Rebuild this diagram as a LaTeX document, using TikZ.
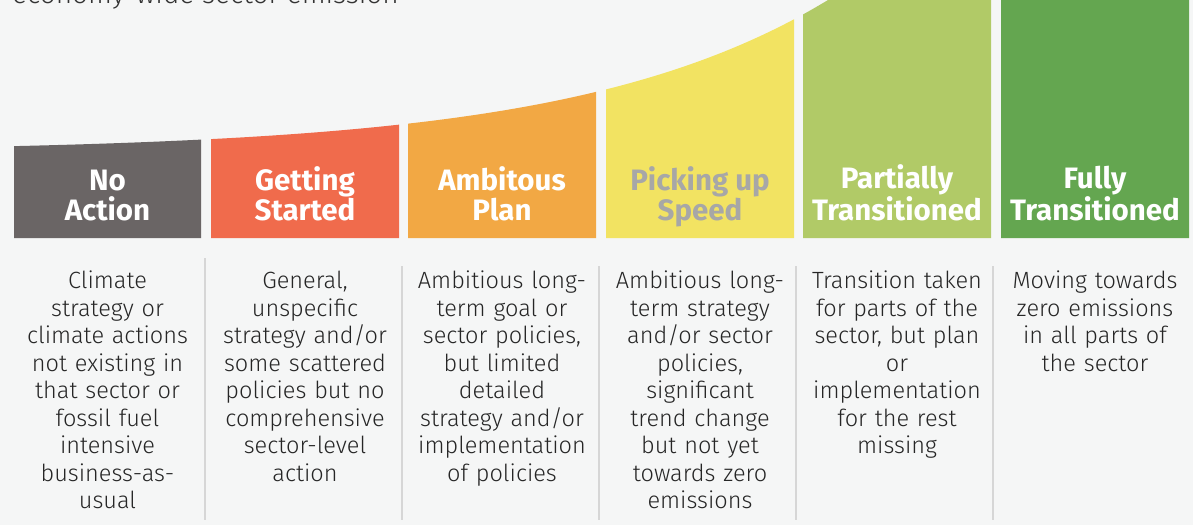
\documentclass[tikz,border=0pt]{standalone}
\usepackage{fontspec}
\setmainfont{Fira Sans}[UprightFont=* Light, BoldFont=* Bold]
\usetikzlibrary{positioning}
\definecolor{bgcol}{HTML}{F5F6F6}
\definecolor{noaction}{HTML}{6A6565}
\definecolor{started}{HTML}{F06B4C}
\definecolor{ambitious}{HTML}{F2A844}
\definecolor{pickup}{HTML}{F2E362}
\definecolor{partial}{HTML}{B1CA67}
\definecolor{fully}{HTML}{64A650}
\definecolor{rulegray}{HTML}{D6D6D6}
\definecolor{pickuptext}{HTML}{A7A7A7}
\tikzset{
  % heading inside each coloured bar
  head/.style={anchor=base, align=center, inner sep=0pt,
    font=\bfseries\fontsize{29.5}{30}\selectfont, text=white},
  % description text below the bars
  desc/.style={anchor=north, align=center, inner sep=0pt, text width=190pt,
    font=\fontsize{23.5}{27.5}\selectfont, text=black!85},
  % thin rules between the descriptions
  sep/.style={rulegray, line width=1.5pt},
}

\begin{document}
\begin{tikzpicture}[x=1pt, y=-1pt]
  \fill[bgcol] (0,0) rectangle (1193,525);
  \useasboundingbox (0,0) rectangle (1193,525);
  \clip (0,0) rectangle (1193,525);

  \node[anchor=base west, inner sep=0pt, font=\fontsize{28}{30}\selectfont,
    text=black!80] (title) at (12,3.5) {economy-wide sector emission};

  % coloured bars under the rising curve
  \foreach \xa/\xb/\col in {14/201/noaction, 211/399/started, 408/596/ambitious,
      606/794/pickup, 803/991/partial, 1001/1189/fully}
    \fill[\col] (\xa,238) -- plot[domain=\xa:\xb, samples=40]
      (\x,{152-5.55*exp(0.004*\x)}) -- (\xb,238) -- cycle;

  \node[head] (noact) at (107.5,220) {No\\Action};
  \node[head] (start) at (305,220) {Getting\\Started};
  \node[head] (ambit) at (502,220) {Ambitous\\Plan};
  \node[head, text=pickuptext] (pick) at (700,220) {Picking up\\Speed};
  \node[head] (part) at (897,220) {Partially\\Transitioned};
  \node[head] (full) at (1095,220) {Fully\\Transitioned};

  \node[desc] (noactd) at (107.5,271) {Climate\\strategy or\\climate actions\\not existing in\\that sector or\\fossil fuel\\intensive\\business-as-\\usual};
  \node[desc] (startd) at (305,271) {General,\\unspecific\\strategy and/or\\some scattered\\policies but no\\comprehensive\\sector-level\\action};
  \node[desc] (ambitd) at (502,271) {Ambitious long-\\term goal or\\sector policies,\\but limited\\detailed\\strategy and/or\\implementation\\of policies};
  \node[desc] (pickd) at (700,271) {Ambitious long-\\term strategy\\and/or sector\\policies,\\significant\\trend change\\but not yet\\towards zero\\emissions};
  \node[desc] (partd) at (897,271) {Transition taken\\for parts of the\\sector, but plan\\or\\implementation\\for the rest\\missing};
  \node[desc] (fulld) at (1095,271) {Moving towards\\zero emissions\\in all parts of\\the sector};

  \draw[sep] (205,258) -- (205,520);
  \foreach \x in {402,599,796,993}
    \draw[sep] (\x,266) -- (\x,520);
\end{tikzpicture}
\end{document}
